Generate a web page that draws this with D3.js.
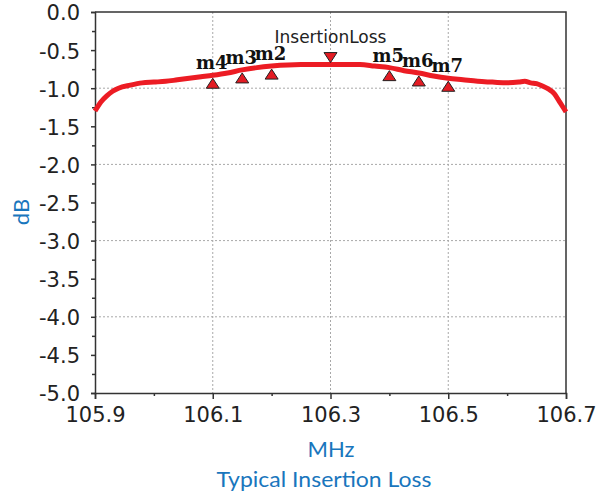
<!DOCTYPE html>
<html><head><meta charset="utf-8">
<script src="https://cdn.jsdelivr.net/npm/d3@7"></script>
<style>html,body{margin:0;padding:0;background:#fff;}svg{display:block;}</style>
</head><body><svg id="c" width="597" height="496"></svg>
<script>
const freqMHz = [105.90,105.91,105.92,105.93,105.94,105.96,105.98,106.00,106.02,106.04,106.06,106.08,106.10,106.125,106.15,106.175,106.20,106.25,106.30,106.35,106.375,106.40,106.425,106.45,106.475,106.50,106.525,106.55,106.575,106.60,106.62,106.63,106.64,106.65,106.66,106.67,106.68,106.69,106.70];
const lossDB  = [-1.30,-1.18,-1.10,-1.04,-1.00,-0.96,-0.93,-0.92,-0.91,-0.89,-0.87,-0.85,-0.83,-0.80,-0.76,-0.73,-0.71,-0.69,-0.69,-0.69,-0.71,-0.73,-0.77,-0.80,-0.84,-0.87,-0.89,-0.91,-0.92,-0.93,-0.92,-0.91,-0.93,-0.94,-0.97,-1.01,-1.07,-1.19,-1.31];
const markerNames = ["m4","m3","m2","m5","m6","m7"];
const markerFreq  = [106.10,106.15,106.20,106.40,106.45,106.50];
const markerDB    = [-0.83,-0.76,-0.71,-0.73,-0.80,-0.87];
const ilMarkerName = "InsertionLoss";
const ilMarkerFreq = 106.30;
const ilMarkerDB = -0.69;
const xTicks = [105.9,106.1,106.3,106.5,106.7];
const xMinorTicks = [106.0,106.2,106.4,106.6];
const yTicks = [0,-0.5,-1,-1.5,-2,-2.5,-3,-3.5,-4,-4.5,-5];
const yGrid = [-1,-2,-3,-4];
const xGrid = [106.1,106.3,106.5];
const xLabel = "MHz", yLabel = "dB", title = "Typical Insertion Loss";

const svg = d3.select("#c");
const L=95, R=566, T=12, B=393;
const x = d3.scaleLinear().domain([105.9,106.7]).range([L,R]);
const y = d3.scaleLinear().domain([0,-5]).range([T,B]);
const blue = "#1976bd";

// grid
const g = svg.append("g");
g.selectAll(".gx").data(xGrid).enter().append("line")
 .attr("x1",d=>x(d)).attr("x2",d=>x(d)).attr("y1",T).attr("y2",B)
 .attr("stroke","#a8a8a8").attr("stroke-width",1).attr("stroke-dasharray","2,2");
g.selectAll(".gy").data(yGrid).enter().append("line")
 .attr("y1",d=>y(d)).attr("y2",d=>y(d)).attr("x1",L).attr("x2",R)
 .attr("stroke","#a8a8a8").attr("stroke-width",1).attr("stroke-dasharray","2,2");

// frame top/right
svg.append("path").attr("d",`M${L},${T}H${R}V${B}`).attr("fill","none").attr("stroke","#333").attr("stroke-width",1.5);

// axes
const xAxis = d3.axisBottom(x).tickValues(xTicks).tickSize(6).tickPadding(8);
const xa = svg.append("g").attr("transform",`translate(0,${B})`).call(xAxis);
xa.select(".domain").attr("stroke","#333").attr("stroke-width",1.5);
xa.selectAll(".tick line").attr("stroke","#333").attr("stroke-width",1.5);
xa.selectAll("text").attr("font-family","DejaVu Sans").attr("font-size",21).attr("fill","#222");
xa.selectAll(".tick text").text(d=>d3.format(".1f")(d));
const xm = svg.append("g").attr("transform",`translate(0,${B})`).call(d3.axisBottom(x).tickValues(xMinorTicks).tickSize(3).tickFormat(""));
xm.select(".domain").remove();
xm.selectAll(".tick line").attr("stroke","#333").attr("stroke-width",1.5);

const yAxis = d3.axisLeft(y).tickValues(yTicks).tickSize(4).tickPadding(11);
const ya = svg.append("g").attr("transform",`translate(${L},0)`).call(yAxis);
ya.select(".domain").attr("stroke","#333").attr("stroke-width",1.5);
ya.selectAll(".tick line").attr("stroke","#333").attr("stroke-width",1.5);
ya.selectAll("text").attr("font-family","DejaVu Sans").attr("font-size",21).attr("fill","#222").attr("dy","0.38em");
ya.selectAll(".tick text").text(d=>d3.format(".1f")(d).replace("−","-"));
const yMinor = d3.range(0,21).map(i=>-i*0.25).filter(v=>Math.abs(v*2-Math.round(v*2))>1e-6);
const ym = svg.append("g").attr("transform",`translate(${L},0)`).call(d3.axisLeft(y).tickValues(yMinor).tickSize(3).tickFormat(""));
ym.select(".domain").remove();
ym.selectAll(".tick line").attr("stroke","#333").attr("stroke-width",1.5);

// curve
const pts = freqMHz.map((f,i)=>[f,lossDB[i]]);
svg.append("path").datum(pts)
 .attr("d",d3.line().x(d=>x(d[0])).y(d=>y(d[1])).curve(d3.curveMonotoneX))
 .attr("fill","none").attr("stroke","#ec1c24").attr("stroke-width",5);

// markers
const mk = markerNames.map((n,i)=>({n,f:markerFreq[i],v:markerDB[i]}));
svg.selectAll(".mk").data(mk).enter().append("path")
 .attr("d",d=>{const cx=x(d.f), cy=y(d.v)+3; return `M${cx},${cy}L${cx+6.5},${cy+10}L${cx-6.5},${cy+10}Z`;})
 .attr("fill","#e31b23").attr("stroke","#222").attr("stroke-width",1);
svg.selectAll(".ml").data(mk).enter().append("text")
 .attr("x",d=>x(d.f)-1).attr("y",d=>y(d.v)-6).attr("text-anchor","middle")
 .attr("font-family","DejaVu Serif").attr("font-weight","bold").attr("font-size",18).attr("fill","#111")
 .text(d=>d.n);
// insertion loss marker
{
 const cx=x(ilMarkerFreq), cy=y(ilMarkerDB)-2;
 svg.append("path").attr("d",`M${cx},${cy}L${cx+6.5},${cy-10}L${cx-6.5},${cy-10}Z`)
  .attr("fill","#e31b23").attr("stroke","#222").attr("stroke-width",1);
 svg.append("text").attr("x",cx).attr("y",y(ilMarkerDB)-22).attr("text-anchor","middle")
  .attr("font-family","DejaVu Sans").attr("font-size",17).attr("fill","#222").text(ilMarkerName);
}

// labels
svg.append("text").attr("x",331).attr("y",457).attr("text-anchor","middle")
 .attr("font-family","Lato").attr("font-size",22).attr("fill",blue).text(xLabel);
svg.append("text").attr("x",324).attr("y",487).attr("text-anchor","middle")
 .attr("font-family","Lato").attr("font-size",22).attr("fill",blue)
 .attr("textLength",215).attr("lengthAdjust","spacingAndGlyphs").text(title);
svg.append("text").attr("transform","translate(29,212) rotate(-90)").attr("text-anchor","middle")
 .attr("font-family","Lato").attr("font-size",22).attr("fill",blue).text(yLabel);
</script></body></html>
